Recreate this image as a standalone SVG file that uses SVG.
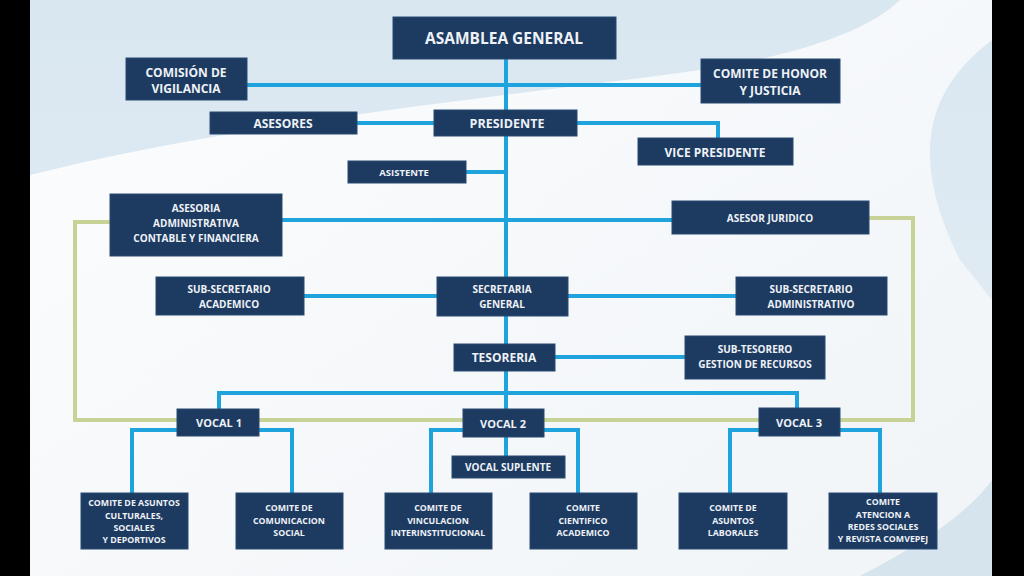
<svg xmlns="http://www.w3.org/2000/svg" width="1024" height="576" viewBox="0 0 1024 576">
<defs>
<linearGradient id="bg" x1="0" y1="0" x2="0" y2="1">
<stop offset="0" stop-color="#d9e7f1"/>
<stop offset="1" stop-color="#e6eef4"/>
</linearGradient>
<linearGradient id="sw" x1="0" y1="0" x2="1" y2="1">
<stop offset="0" stop-color="#ffffff"/>
<stop offset="1" stop-color="#f2f5f8"/>
</linearGradient>
<style>
.box{fill:#1d3a61;stroke:#2a4a73;stroke-width:1}
.t{font-family:"Open Sans","Liberation Sans",sans-serif;font-weight:bold;fill:#eef2f7;text-anchor:middle;dominant-baseline:central}
.b{fill:none;stroke:#1ea3dd;stroke-width:4}
.g{fill:none;stroke:#c7d396;stroke-width:4}
.s16{font-size:15.5px}.s13{font-size:12.5px}.s12{font-size:12px}.s11{font-size:11px}.s10{font-size:10px}.s9{font-size:9.5px}.s8{font-size:8.8px}
</style>
</defs>
<rect x="0" y="0" width="1024" height="576" fill="#000"/>
<rect x="30" y="0" width="962" height="576" fill="url(#bg)"/>
<path d="M30 175 C250 120 520 95 700 70 C800 55 870 30 900 0 L992 0 L992 40 C940 80 900 140 960 260 L992 300 L992 576 L30 576 Z" fill="url(#sw)" opacity="0.9"/>
<path d="M860 576 C930 540 970 510 992 480 L992 576 Z" fill="#d6e4ee"/>
<g id="connectors">
<path class="g" d="M110 222 H75 V420 H913 V218 H869"/>
<path class="b" d="M506 59 V456"/>
<path class="b" d="M247 85 H701"/>
<path class="b" d="M357 123 H434"/>
<path class="b" d="M577 123 H718 V138"/>
<path class="b" d="M466 172 H506"/>
<path class="b" d="M282 220 H672"/>
<path class="b" d="M304 296 H437"/>
<path class="b" d="M568 296 H736"/>
<path class="b" d="M555 357 H685"/>
<path class="b" d="M219 409 V393 H797 V408"/>
<path class="b" d="M177 430 H132 V493"/>
<path class="b" d="M259 430 H292 V493"/>
<path class="b" d="M463 430 H431 V493"/>
<path class="b" d="M544 430 H578 V493"/>
<path class="b" d="M759 430 H730 V493"/>
<path class="b" d="M840 430 H880 V493"/>
</g>
<g id="asamblea"><rect class="box" x="393" y="17" width="223" height="42"/><text class="t s16" x="504" y="38">ASAMBLEA GENERAL</text></g>
<g id="comision"><rect class="box" x="126" y="58" width="121" height="42"/><text class="t s12" x="186" y="72">COMISIÓN DE</text><text class="t s12" x="186" y="88">VIGILANCIA</text></g>
<g id="honor"><rect class="box" x="701" y="59" width="139" height="44"/><text class="t s12" x="770" y="73">COMITE DE HONOR</text><text class="t s12" x="770" y="90">Y JUSTICIA</text></g>
<g id="asesores"><rect class="box" x="210" y="112" width="147" height="22"/><text class="t s12" x="283" y="123">ASESORES</text></g>
<g id="presidente"><rect class="box" x="434" y="110" width="143" height="26"/><text class="t s13" x="507" y="123">PRESIDENTE</text></g>
<g id="vicepresidente"><rect class="box" x="638" y="138" width="155" height="27"/><text class="t s12" x="715" y="152">VICE PRESIDENTE</text></g>
<g id="asistente"><rect class="box" x="348" y="161" width="118" height="22"/><text class="t s9" x="404" y="172">ASISTENTE</text></g>
<g id="asesoria"><rect class="box" x="110" y="194" width="172" height="62"/><text class="t s10" x="196" y="208">ASESORIA</text><text class="t s10" x="196" y="223">ADMINISTRATIVA</text><text class="t s10" x="196" y="238">CONTABLE  Y FINANCIERA</text></g>
<g id="juridico"><rect class="box" x="672" y="201" width="197" height="33"/><text class="t s10" x="770" y="218">ASESOR JURIDICO</text></g>
<g id="subacademico"><rect class="box" x="156" y="277" width="148" height="38"/><text class="t s10" x="229" y="289">SUB-SECRETARIO</text><text class="t s10" x="229" y="304">ACADEMICO</text></g>
<g id="secretaria"><rect class="box" x="437" y="277" width="131" height="39"/><text class="t s10" x="502" y="289">SECRETARIA</text><text class="t s10" x="502" y="304">GENERAL</text></g>
<g id="subadministrativo"><rect class="box" x="736" y="277" width="151" height="38"/><text class="t s10" x="811" y="289">SUB-SECRETARIO</text><text class="t s10" x="811" y="304">ADMINISTRATIVO</text></g>
<g id="tesoreria"><rect class="box" x="454" y="344" width="101" height="27"/><text class="t s12" x="504" y="357">TESORERIA</text></g>
<g id="subtesorero"><rect class="box" x="685" y="336" width="140" height="43"/><text class="t s10" x="755" y="349">SUB-TESORERO</text><text class="t s10" x="755" y="364">GESTION DE  RECURSOS</text></g>
<g id="vocal1"><rect class="box" x="177" y="409" width="82" height="27"/><text class="t s11" x="219" y="422">VOCAL 1</text></g>
<g id="vocal2"><rect class="box" x="463" y="409" width="81" height="28"/><text class="t s11" x="503" y="423">VOCAL 2</text></g>
<g id="vocal3"><rect class="box" x="759" y="408" width="81" height="28"/><text class="t s11" x="799" y="422">VOCAL 3</text></g>
<g id="vocalsuplente"><rect class="box" x="452" y="456" width="113" height="22"/><text class="t s10" x="508" y="467">VOCAL SUPLENTE</text></g>
<g id="culturales"><rect class="box" x="81" y="493" width="107" height="56"/><text class="t s8" x="134" y="503">COMITE DE ASUNTOS</text><text class="t s8" x="134" y="516">CULTURALES,</text><text class="t s8" x="134" y="528">SOCIALES</text><text class="t s8" x="134" y="540">Y DEPORTIVOS</text></g>
<g id="comunicacion"><rect class="box" x="236" y="493" width="107" height="56"/><text class="t s8" x="289" y="508">COMITE DE</text><text class="t s8" x="289" y="521">COMUNICACION</text><text class="t s8" x="289" y="533">SOCIAL</text></g>
<g id="vinculacion"><rect class="box" x="385" y="493" width="107" height="56"/><text class="t s8" x="438" y="508">COMITE DE</text><text class="t s8" x="438" y="521">VINCULACION</text><text class="t s8" x="438" y="533">INTERINSTITUCIONAL</text></g>
<g id="cientifico"><rect class="box" x="530" y="493" width="107" height="56"/><text class="t s8" x="583" y="508">COMITE</text><text class="t s8" x="583" y="521">CIENTIFICO</text><text class="t s8" x="583" y="533">ACADEMICO</text></g>
<g id="laborales"><rect class="box" x="679" y="493" width="108" height="56"/><text class="t s8" x="733" y="508">COMITE DE</text><text class="t s8" x="733" y="521">ASUNTOS</text><text class="t s8" x="733" y="533">LABORALES</text></g>
<g id="redes"><rect class="box" x="829" y="493" width="108" height="56"/><text class="t s8" x="883" y="502">COMITE</text><text class="t s8" x="883" y="515">ATENCION A</text><text class="t s8" x="883" y="527">REDES SOCIALES</text><text class="t s8" x="883" y="539">Y REVISTA COMVEPEJ</text></g>
</svg>
